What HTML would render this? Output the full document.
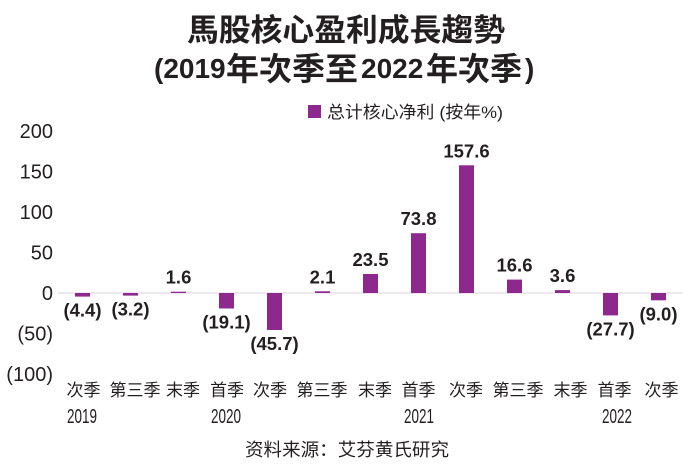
<!DOCTYPE html>
<html>
<head>
<meta charset="utf-8">
<style>
  html,body{margin:0;padding:0;background:#fff;}
  svg{display:block;}
  .cjk{font-family:"Liberation Sans","Noto Sans CJK SC",sans-serif;}
  .tc{font-family:"Liberation Sans","Noto Sans CJK TC",sans-serif;}
  .lat{font-family:"Liberation Sans",sans-serif;}
</style>
</head>
<body>
<svg width="690" height="466" viewBox="0 0 690 466" xmlns="http://www.w3.org/2000/svg">
  <rect x="0" y="0" width="690" height="466" fill="#ffffff"/>

  <!-- Title -->
  <g fill="#231f20" font-weight="bold">
    <text class="tc" x="187" y="41" font-size="31" textLength="318" lengthAdjust="spacingAndGlyphs">馬股核心盈利成長趨勢</text>
    <text class="lat" x="154" y="78" font-size="28">(2019</text>
    <text class="tc" x="226" y="80" font-size="32" textLength="132" lengthAdjust="spacingAndGlyphs">年次季至</text>
    <text class="lat" x="361" y="78" font-size="28">2022</text>
    <text class="tc" x="426" y="80" font-size="32" textLength="96" lengthAdjust="spacingAndGlyphs">年次季</text>
    <text class="lat" x="525" y="78" font-size="28">)</text>
  </g>

  <!-- Legend -->
  <rect x="308" y="105" width="13" height="13" fill="#8c288e"/>
  <text class="cjk" x="327" y="118" font-size="17" fill="#231f20" textLength="176" lengthAdjust="spacingAndGlyphs">总计核心净利 (按年%)</text>

  <!-- Y axis labels -->
  <g class="lat" font-size="20" fill="#231f20" text-anchor="end">
    <text x="53" y="138">200</text>
    <text x="53" y="178.5">150</text>
    <text x="53" y="219">100</text>
    <text x="53" y="259.5">50</text>
    <text x="53" y="300">0</text>
    <text x="53" y="340.5">(50)</text>
    <text x="53" y="381">(100)</text>
  </g>

  <!-- zero line -->
  <rect x="58" y="292.5" width="625" height="1" fill="#d8d1dc"/>

  <!-- Bars -->
  <g fill="#8c288e">
    <rect x="75"  y="293"   width="15" height="3.6"/>
    <rect x="123" y="293"   width="15" height="2.6"/>
    <rect x="171" y="291.7" width="15" height="1.3"/>
    <rect x="219" y="293"   width="15" height="15.5"/>
    <rect x="267" y="293"   width="15" height="37"/>
    <rect x="315" y="291.3" width="15" height="1.7"/>
    <rect x="363" y="274"   width="15" height="19"/>
    <rect x="411" y="233.2" width="15" height="59.8"/>
    <rect x="459" y="165.3" width="15" height="127.7"/>
    <rect x="507" y="279.6" width="15" height="13.4"/>
    <rect x="555" y="290.1" width="15" height="2.9"/>
    <rect x="603" y="293"   width="15" height="22.4"/>
    <rect x="651" y="293"   width="15" height="7.3"/>
  </g>

  <!-- Value labels -->
  <g class="lat" font-size="18.5" font-weight="bold" fill="#231f20" text-anchor="middle">
    <text x="82.5"  y="316.6">(4.4)</text>
    <text x="130.5" y="315.6">(3.2)</text>
    <text x="178.5" y="283.7">1.6</text>
    <text x="226.5" y="328.5">(19.1)</text>
    <text x="274.5" y="350">(45.7)</text>
    <text x="322.5" y="283.3">2.1</text>
    <text x="370.5" y="266">23.5</text>
    <text x="418.5" y="225.2">73.8</text>
    <text x="466.5" y="157.3">157.6</text>
    <text x="514.5" y="271.6">16.6</text>
    <text x="562.5" y="282.1">3.6</text>
    <text x="610.5" y="335.4">(27.7)</text>
    <text x="658.5" y="320.3">(9.0)</text>
  </g>

  <!-- X axis labels -->
  <g class="cjk" font-size="17" fill="#231f20" text-anchor="middle">
    <text x="83.5"  y="396">次季</text>
    <text x="135"   y="396">第三季</text>
    <text x="183"   y="396">末季</text>
    <text x="227"   y="396">首季</text>
    <text x="270"   y="396">次季</text>
    <text x="322"   y="396">第三季</text>
    <text x="375"   y="396">末季</text>
    <text x="418.5" y="396">首季</text>
    <text x="466"   y="396">次季</text>
    <text x="518"   y="396">第三季</text>
    <text x="570.5" y="396">末季</text>
    <text x="614.5" y="396">首季</text>
    <text x="661.5" y="396">次季</text>
  </g>

  <!-- Years -->
  <g class="lat" font-size="20" fill="#231f20">
    <text x="67"  y="423" textLength="30" lengthAdjust="spacingAndGlyphs">2019</text>
    <text x="211" y="423" textLength="30" lengthAdjust="spacingAndGlyphs">2020</text>
    <text x="404" y="423" textLength="30" lengthAdjust="spacingAndGlyphs">2021</text>
    <text x="602" y="423" textLength="30" lengthAdjust="spacingAndGlyphs">2022</text>
  </g>

  <!-- Source -->
  <text class="cjk" x="245" y="456" font-size="18" fill="#231f20" textLength="204" lengthAdjust="spacingAndGlyphs">资料来源：艾芬黄氏研究</text>
</svg>
</body>
</html>
